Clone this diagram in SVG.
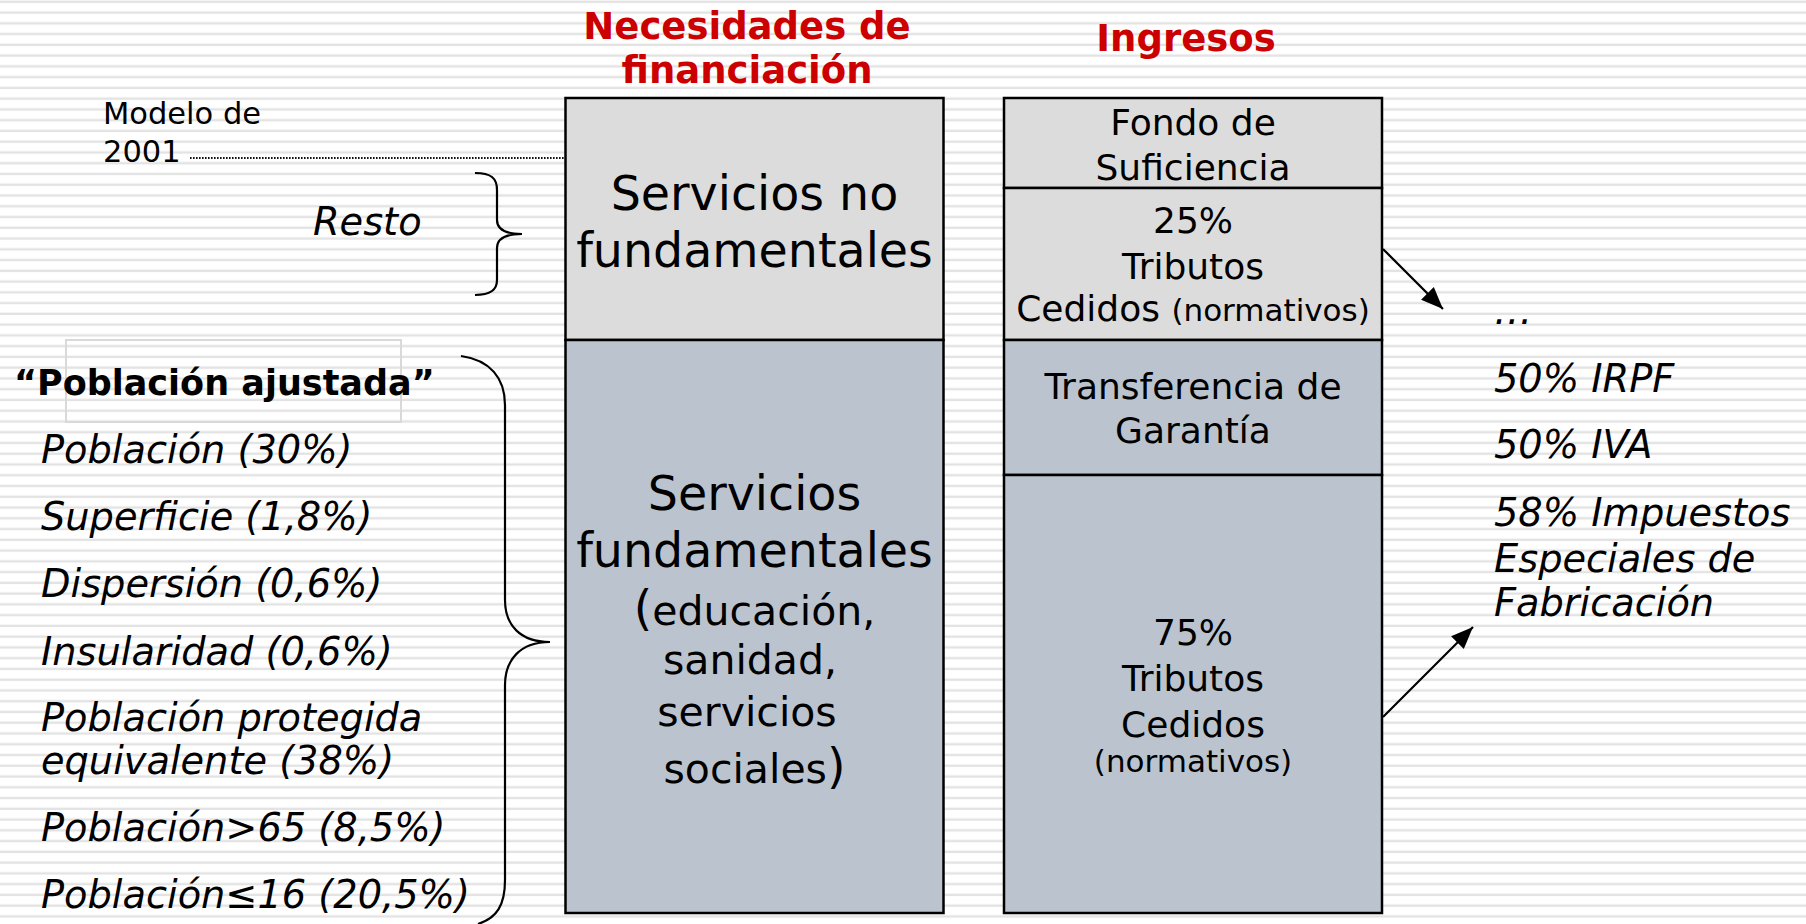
<svg xmlns="http://www.w3.org/2000/svg" width="1806" height="924" viewBox="0 0 1806 924">
<style>
.t{font-family:"DejaVu Sans",Verdana,"Noto Sans",sans-serif;fill:#000}
.title{font-weight:bold;fill:#cc0000;font-size:37px;text-anchor:middle}
.big{font-size:47.5px;text-anchor:middle}
.mid{font-size:41px;text-anchor:middle}
.box2{font-size:36px;text-anchor:middle}
.small{font-size:31px}
.it{font-style:italic;font-size:38.3px}
.top{fill:#dcdcdc;stroke:#000;stroke-width:2.5}
.bot{fill:#bbc4ce;stroke:#000;stroke-width:2.5}
.brace{fill:none;stroke:#000;stroke-width:2.2}
.arrow{stroke:#000;stroke-width:2.2;fill:none;marker-end:url(#ah)}
</style>
<defs>
<pattern id="stripes" width="20" height="10.76" patternUnits="userSpaceOnUse">
<rect width="20" height="10.76" fill="#ffffff"/>
<rect y="0.6" width="20" height="2.4" fill="#e3e3e3"/>
</pattern>
<marker id="ah" markerUnits="userSpaceOnUse" markerWidth="24" markerHeight="20" refX="22" refY="9" orient="auto" viewBox="0 0 24 18">
<path d="M0,0 L22,9 L0,18 Z" fill="#000"/>
</marker>
</defs>
<rect width="1806" height="924" fill="url(#stripes)"/>

<g id="titles">
<text class="t title" x="747" y="39">Necesidades de</text>
<text class="t title" x="747" y="83">financiación</text>
<text class="t title" x="1186" y="51">Ingresos</text>
</g>

<g id="servicios-no-fundamentales">
<rect class="top" x="565.5" y="98" width="378" height="242"/>
<text class="t big" x="754.5" y="210">Servicios no</text>
<text class="t big" x="754.5" y="267">fundamentales</text>
</g>

<g id="servicios-fundamentales">
<rect class="bot" x="565.5" y="340" width="378" height="573"/>
<text class="t big" x="754.5" y="510">Servicios</text>
<text class="t big" x="754.5" y="567">fundamentales</text>
<text class="t mid" x="754.5" y="625"><tspan font-size="47.5">(</tspan>educación,</text>
<text class="t mid" x="750" y="674">sanidad,</text>
<text class="t mid" x="747" y="726">servicios</text>
<text class="t mid" x="754.5" y="783">sociales<tspan font-size="47.5">)</tspan></text>
</g>

<g id="fondo-suficiencia">
<rect class="top" x="1004" y="98" width="378" height="90"/>
<text class="t box2" x="1193" y="135">Fondo de</text>
<text class="t box2" x="1193" y="180">Suficiencia</text>
</g>

<g id="tributos-25">
<rect class="top" x="1004" y="188" width="378" height="152"/>
<text class="t box2" x="1193" y="233">25%</text>
<text class="t box2" x="1193" y="279">Tributos</text>
<text class="t box2" x="1193" y="321">Cedidos <tspan class="small">(normativos)</tspan></text>
</g>

<g id="transferencia-garantia">
<rect class="bot" x="1004" y="340" width="378" height="135"/>
<text class="t box2" x="1193" y="399">Transferencia de</text>
<text class="t box2" x="1193" y="443">Garantía</text>
</g>

<g id="tributos-75">
<rect class="bot" x="1004" y="475" width="378" height="438"/>
<text class="t box2" x="1193" y="645">75%</text>
<text class="t box2" x="1193" y="691">Tributos</text>
<text class="t box2" x="1193" y="737">Cedidos</text>
<text class="t small" x="1193" y="772" text-anchor="middle">(normativos)</text>
</g>

<g id="modelo-2001">
<text class="t" x="103" y="124" font-size="30.5">Modelo de</text>
<text class="t" x="103" y="162" font-size="30.5">2001</text>
</g>

<g id="resto">
<text class="t it" x="313" y="235">Resto</text>
</g>

<g id="poblacion-ajustada">
<rect x="66" y="340" width="335" height="82" fill="none" stroke="#d9d9d9" stroke-width="2"/>
<text class="t" x="14" y="395" font-size="35" font-weight="bold">“Población ajustada”</text>
<text class="t it" x="41" y="463">Población (30%)</text>
<text class="t it" x="41" y="530">Superficie (1,8%)</text>
<text class="t it" x="41" y="597">Dispersión (0,6%)</text>
<text class="t it" x="41" y="665">Insularidad (0,6%)</text>
<text class="t it" x="41" y="731">Población protegida</text>
<text class="t it" x="41" y="774">equivalente (38%)</text>
<text class="t it" x="41" y="841">Población&gt;65 (8,5%)</text>
<text class="t it" x="41" y="908">Población≤16 (20,5%)</text>
</g>

<g id="impuestos">
<text class="t it" x="1494" y="324">…</text>
<text class="t it" x="1494" y="392">50% IRPF</text>
<text class="t it" x="1494" y="458">50% IVA</text>
<text class="t it" x="1494" y="526">58% Impuestos</text>
<text class="t it" x="1494" y="572">Especiales de</text>
<text class="t it" x="1494" y="616">Fabricación</text>
</g>

<g id="connectors">
<line x1="190" y1="158" x2="565" y2="158" stroke="#111" stroke-width="1.8" stroke-dasharray="1.6 1.4"/>
<path class="brace" d="M475,173 C491,173 497,178 497,190 L497,220 C497,229 505,234 522,234 C505,234 497,239 497,248 L497,280 C497,290 491,295 475,295"/>
<path class="brace" d="M461,356 C490,360 505,378 505,405 L505,600 C505,625 520,642 550,642 C520,642 505,660 505,685 L505,880 C505,905 497,918 478,924"/>
<line class="arrow" x1="1383" y1="249" x2="1443" y2="309"/>
<line class="arrow" x1="1383" y1="717" x2="1473" y2="627"/>
</g>
</svg>
